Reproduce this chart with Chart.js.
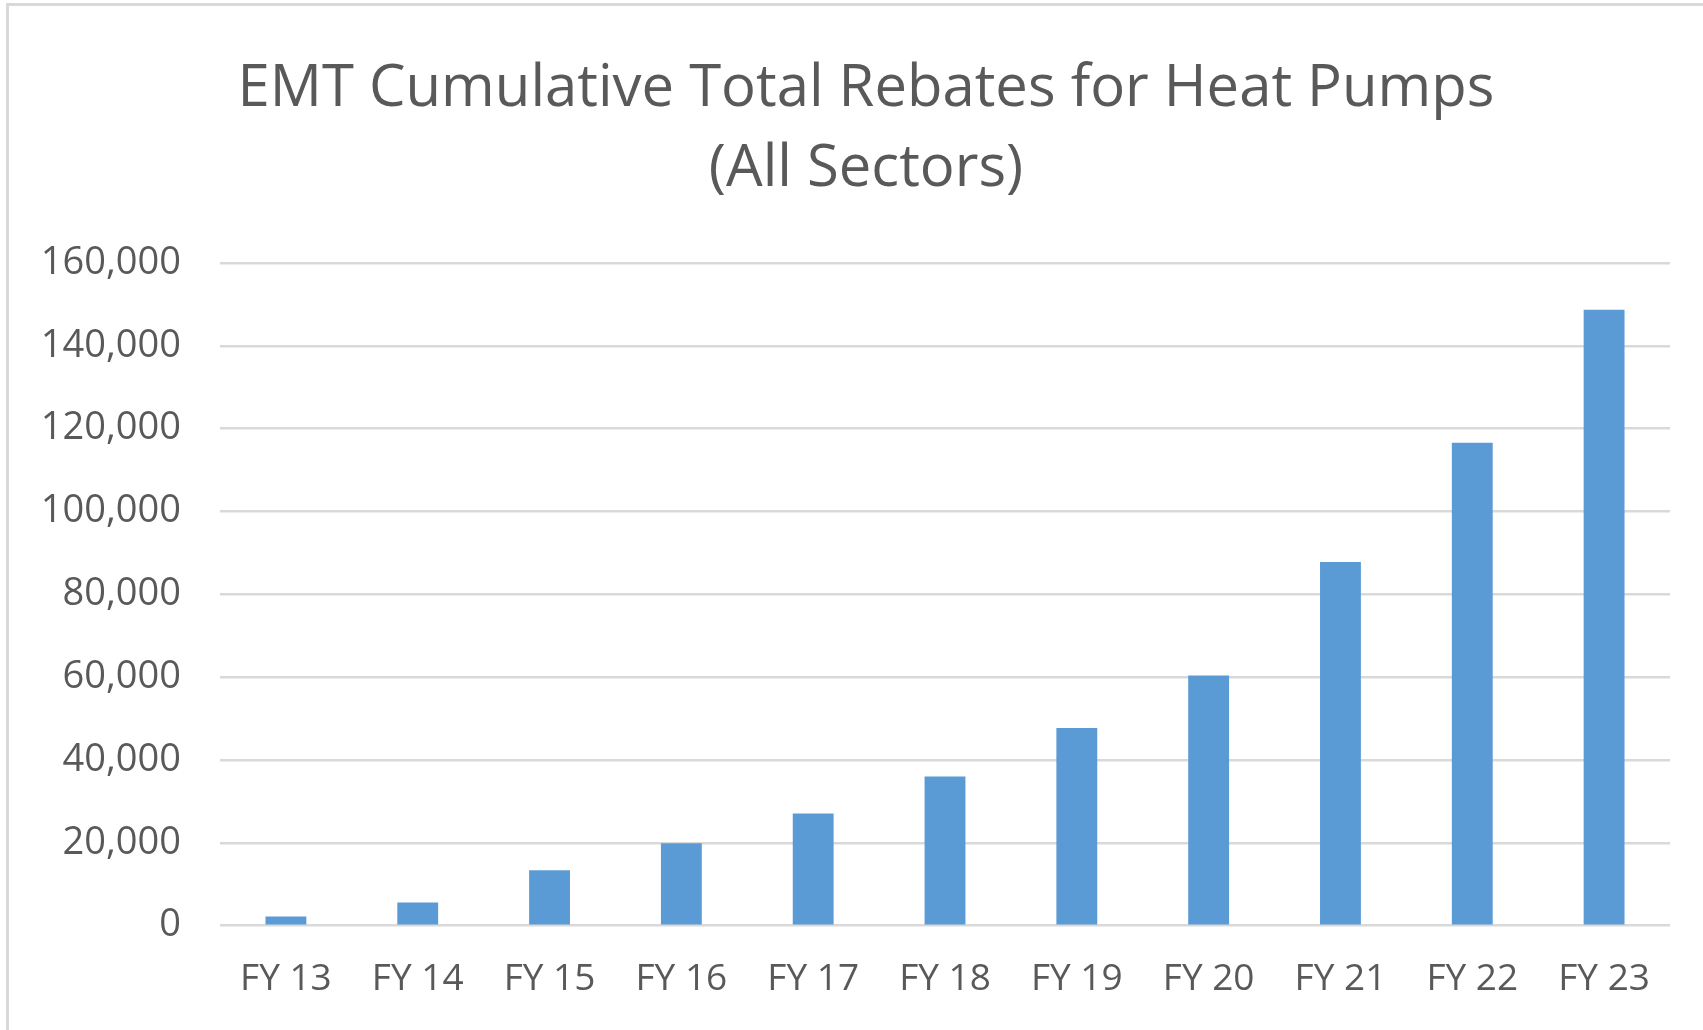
<!DOCTYPE html>
<html>
<head>
<meta charset="utf-8">
<script src="https://cdn.jsdelivr.net/npm/chart.js@4/dist/chart.umd.min.js"></script>
<style>
  body { margin: 0; background: #fff; }
  #wrap { position: relative; width: 1703px; height: 1030px; }
  #frame { position: absolute; left: 6px; top: 3px; width: 1710px; height: 1040px; border: 3px solid #d9d9d9; box-sizing: border-box; pointer-events: none; }
</style>
</head>
<body>
<div id="wrap">
  <canvas id="chart" width="1703" height="1030"></canvas>
  <div id="frame"></div>
</div>
<script>
const categories = ['FY 13', 'FY 14', 'FY 15', 'FY 16', 'FY 17', 'FY 18', 'FY 19', 'FY 20', 'FY 21', 'FY 22', 'FY 23'];
const rebates = [2200, 5600, 13400, 19900, 27100, 36000, 47700, 60400, 87800, 116600, 148700];
const titleLines = ['EMT Cumulative Total Rebates for Heat Pumps', '(All Sectors)'];

const textColor = '#595959';
const fontFamily = '"Open Sans", "Noto Sans", sans-serif';

// title sits a bit right of the canvas centre, like the original, so draw it by hand
const chartTitle = {
  id: 'chartTitle',
  afterDraw(chart) {
    const c = chart.ctx;
    c.save();
    c.font = '58px ' + fontFamily;
    c.fillStyle = textColor;
    c.textAlign = 'center';
    c.textBaseline = 'middle';
    titleLines.forEach((line, i) => c.fillText(line, 866, 89 + i * 80));
    c.restore();
  }
};

const ctx = document.getElementById('chart').getContext('2d');
new Chart(ctx, {
  type: 'bar',
  data: {
    labels: categories,
    datasets: [{
      label: 'Rebates',
      data: rebates,
      backgroundColor: '#5b9bd5',
      borderWidth: 0,
      barPercentage: 1,
      categoryPercentage: 0.31
    }]
  },
  options: {
    responsive: false,
    animation: false,
    layout: { padding: { left: 5, right: 33, top: 263, bottom: -4 } },
    plugins: {
      legend: { display: false },
      tooltip: { enabled: false },
      title: { display: false }
    },
    scales: {
      x: {
        grid: { display: false, drawTicks: false },
        border: { display: false },
        // labels never overflow the plot here, don't let them pad the edges
        afterFit: scale => { scale.paddingLeft = 0; scale.paddingRight = 0; },
        ticks: { color: textColor, font: { family: fontFamily, size: 37, lineHeight: 0.01 }, padding: 54 }
      },
      y: {
        min: 0,
        max: 160000,
        grid: { color: '#d9d9d9', lineWidth: 2.5, drawTicks: false },
        border: { display: false },
        afterFit: scale => { scale.width = 215; },
        ticks: {
          stepSize: 20000,
          color: textColor,
          font: { family: fontFamily, size: 38 },
          padding: 39,
          callback: v => v.toLocaleString('en-US')
        }
      }
    }
  },
  plugins: [chartTitle]
});
</script>
</body>
</html>
